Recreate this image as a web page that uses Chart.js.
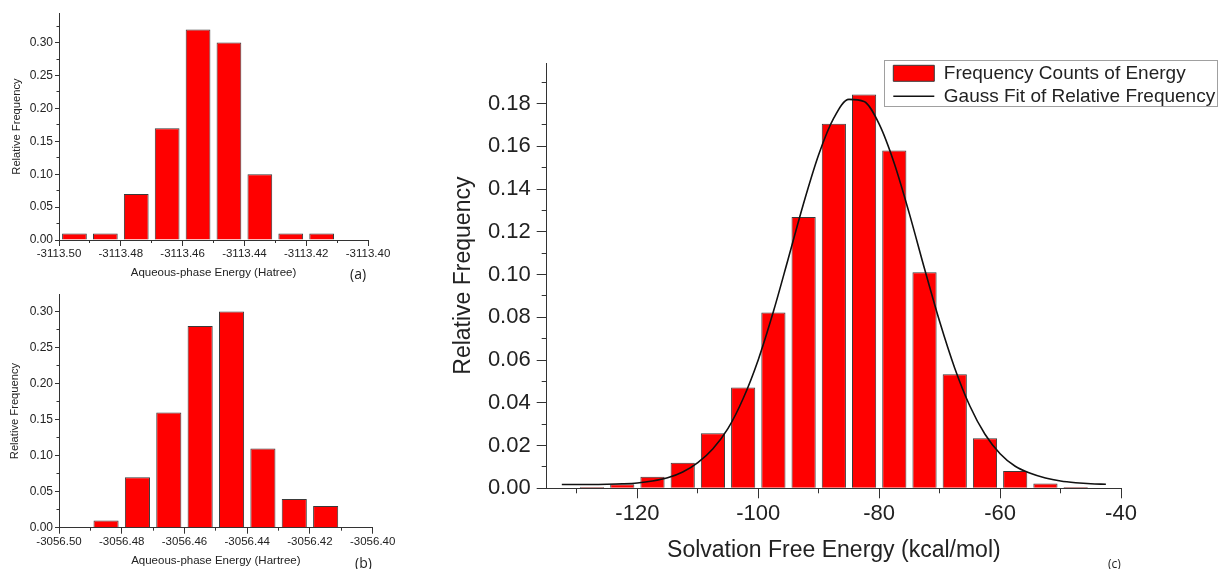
<!DOCTYPE html>
<html>
<head>
<meta charset="utf-8">
<script src="https://cdn.jsdelivr.net/npm/chart.js@4.4.1/dist/chart.umd.min.js"></script>
<style>
  html, body { margin: 0; padding: 0; background: #fff; width: 1220px; height: 569px; overflow: hidden; }
  .box { position: absolute; }
  .tag { position: absolute; font-family: "Open Sans", "Liberation Sans", sans-serif; color: #222; white-space: nowrap; }
</style>
</head>
<body>
<div class="box" style="left:0;top:0;width:400px;height:285px"><canvas id="ca" width="400" height="285"></canvas></div>
<div class="box" style="left:0;top:285px;width:400px;height:284px"><canvas id="cb" width="400" height="284"></canvas></div>
<div class="box" style="left:420px;top:0;width:800px;height:569px"><canvas id="cc" width="800" height="569"></canvas></div>
<span class="tag" style="left:350px;top:264px;font-size:14px;line-height:20px">(a)</span>
<span class="tag" style="left:355px;top:553px;font-size:14px;line-height:20px">(b)</span>
<span class="tag" style="left:1108px;top:556px;font-size:12px;line-height:16px">(c)</span>
<script>
// ---------------- data ----------------
// (a) aqueous-phase energy histogram
const aEnergy = [-3113.495, -3113.485, -3113.475, -3113.465, -3113.455, -3113.445, -3113.435, -3113.425, -3113.415];
const aFreq   = [0.01, 0.01, 0.07, 0.17, 0.32, 0.30, 0.10, 0.01, 0.01];
const aXTicks = [-3113.50, -3113.48, -3113.46, -3113.44, -3113.42, -3113.40];

// (b) aqueous-phase energy histogram
const bEnergy = [-3056.485, -3056.475, -3056.465, -3056.455, -3056.445, -3056.435, -3056.425, -3056.415];
const bFreq   = [0.01, 0.07, 0.16, 0.28, 0.30, 0.11, 0.04, 0.03];
const bXTicks = [-3056.50, -3056.48, -3056.46, -3056.44, -3056.42, -3056.40];

const abYTicks = [0.00, 0.05, 0.10, 0.15, 0.20, 0.25, 0.30];

// (c) solvation free energy histogram + Gauss fit
const cEnergy = [-132.5, -127.5, -122.5, -117.5, -112.5, -107.5, -102.5, -97.5, -92.5, -87.5,
                 -82.5, -77.5, -72.5, -67.5, -62.5, -57.5, -52.5, -47.5, -42.5];
const cFreq   = [0.0003, 0.0006, 0.0019, 0.0054, 0.0120, 0.0257, 0.0472, 0.0822, 0.1269, 0.1706,
                 0.1843, 0.1580, 0.1011, 0.0534, 0.0234, 0.0081, 0.0023, 0.0006, 0.0003];
const gaussEnergy = [-132.5, -130, -127.5, -125, -122.5, -120, -117.5, -115, -112.5, -110,
                     -107.5, -105, -102.5, -100, -97.5, -95, -92.5, -90, -87.5, -85,
                     -82.5, -80, -77.5, -75, -72.5, -70, -67.5, -65, -62.5, -60,
                     -57.5, -55, -52.5, -50, -47.5, -45, -42.5];
const gaussFreq   = [0.0018, 0.0018, 0.0018, 0.0019, 0.0021, 0.0025, 0.0034, 0.0049, 0.0076, 0.0120,
                     0.0185, 0.0280, 0.0420, 0.0602, 0.0827, 0.1079, 0.1334, 0.1562, 0.1733, 0.1820,
                     0.1810, 0.1704, 0.1520, 0.1284, 0.1027, 0.0780, 0.0562, 0.0385, 0.0253, 0.0162,
                     0.0103, 0.0070, 0.0048, 0.0034, 0.0026, 0.0021, 0.0019];
const cXTicks = [-120, -100, -80, -60, -40];
const cYTicks = [0.00, 0.02, 0.04, 0.06, 0.08, 0.10, 0.12, 0.14, 0.16, 0.18];

// ---------------- helpers ----------------
Chart.defaults.font.family = '"Liberation Sans", Arial, Helvetica, sans-serif';
Chart.defaults.color = '#222';

const AXIS = '#333';

const minorTicks = {
  id: 'minorTicks',
  afterDraw(chart, args, o) {
    if (!o || !o.color) return;
    const ctx = chart.ctx, ca = chart.chartArea;
    const xs = chart.scales.x, ys = chart.scales.y;
    const al = p => Math.round(p - 0.5) + 0.5;
    ctx.save();
    ctx.strokeStyle = o.color;
    ctx.lineWidth = 1;
    ctx.beginPath();
    if (o.xStep) {
      const s = Math.ceil(xs.min / o.xStep - 1e-6);
      const e = Math.floor(xs.max / o.xStep + 1e-6);
      for (let k = s; k <= e; k++) {
        const p = al(xs.getPixelForValue(k * o.xStep));
        ctx.moveTo(p, ca.bottom); ctx.lineTo(p, ca.bottom + o.xLen);
      }
    }
    if (o.yStep) {
      const s = Math.ceil(ys.min / o.yStep - 1e-6);
      const e = Math.floor(ys.max / o.yStep + 1e-6);
      for (let k = s; k <= e; k++) {
        const p = al(ys.getPixelForValue(k * o.yStep));
        ctx.moveTo(ca.left - o.yLen, p); ctx.lineTo(ca.left, p);
      }
    }
    ctx.stroke();
    ctx.restore();
  }
};

const legendPlace = {
  id: 'legendPlace',
  afterLayout(chart, args, o) {
    const lg = chart.legend;
    if (!lg || !o || o.left === undefined) return;
    lg.left = o.left; lg.top = o.top;
    lg.width = o.width; lg.height = o.height;
    lg.right = o.left + o.width; lg.bottom = o.top + o.height;
  },
  afterDraw(chart, args, o) {
    if (!o || o.boxLeft === undefined) return;
    const ctx = chart.ctx;
    ctx.save();
    ctx.strokeStyle = o.borderColor;
    ctx.lineWidth = 1;
    ctx.strokeRect(o.boxLeft + 0.5, o.boxTop + 0.5, o.boxWidth, o.boxHeight);
    ctx.restore();
  }
};

function fixedTicks(arr) {
  return scale => { scale.ticks = arr.map(v => ({ value: v })); };
}

function smallHist(id, xs, ys, cfg) {
  return new Chart(document.getElementById(id), {
    type: 'bar',
    data: {
      datasets: [{
        label: 'Relative Frequency',
        data: xs.map((x, i) => ({ x: x, y: ys[i] })),
        backgroundColor: '#ff0000',
        borderColor: '#3a3a3a',
        borderWidth: 1,
        barPercentage: 0.8,
        categoryPercentage: 1.0
      }]
    },
    options: {
      responsive: false,
      animation: false,
      events: [],
      layout: { padding: cfg.pad },
      plugins: {
        legend: { display: false },
        tooltip: { enabled: false },
        minorTicks: { color: AXIS, xStep: 0.01, xLen: 3, yStep: 0.025, yLen: 2.5 }
      },
      scales: {
        x: {
          type: 'linear',
          bounds: 'data',
          min: cfg.xMin, max: cfg.xMax,
          offset: false,
          afterBuildTicks: fixedTicks(cfg.xTicks),
          afterFit: s => { s.height = cfg.xh; },
          grid: { offset: false, drawOnChartArea: false, drawTicks: true, tickLength: 6, color: AXIS },
          border: { display: true, color: AXIS, width: 1 },
          ticks: { autoSkip: false, maxRotation: 0, padding: 1.2, font: { size: 11.5 }, color: '#222',
                   callback: v => Number(v).toFixed(2) },
          title: { display: true, text: cfg.xTitle, font: { size: 11.5 }, color: '#222',
                   padding: { top: 0, bottom: cfg.xtPad } }
        },
        y: {
          type: 'linear',
          bounds: 'data',
          min: 0, max: cfg.yMax,
          afterBuildTicks: fixedTicks(abYTicks),
          afterFit: s => { s.width = cfg.yw; },
          grid: { drawOnChartArea: false, drawTicks: true, tickLength: 4, color: AXIS },
          border: { display: true, color: AXIS, width: 1 },
          ticks: { autoSkip: false, padding: 2, font: { size: 12 }, color: '#222',
                   callback: v => Number(v).toFixed(2) },
          title: { display: true, text: 'Relative Frequency', font: { size: 11.2 }, color: '#222',
                   padding: { top: cfg.ytPad, bottom: 0 } }
        }
      }
    },
    plugins: [minorTicks]
  });
}

// (a)
smallHist('ca', aEnergy, aFreq, {
  xMin: -3113.50, xMax: -3113.40, xTicks: aXTicks, yMax: 0.345,
  pad: { left: 0, top: 13, right: 32, bottom: 0 }, yw: 59, xh: 45,
  xTitle: 'Aqueous-phase Energy (Hatree)', xtPad: 5, ytPad: 10
});

// (b)
smallHist('cb', bEnergy, bFreq, {
  xMin: -3056.50, xMax: -3056.40, xTicks: bXTicks, yMax: 0.324,
  pad: { left: 0, top: 9.3, right: 27.3, bottom: 0 }, yw: 59, xh: 41.3,
  xTitle: 'Aqueous-phase Energy (Hartree)', xtPad: 1, ytPad: 8
});

// (c)
new Chart(document.getElementById('cc'), {
  type: 'bar',
  data: {
    datasets: [
      {
        type: 'bar',
        label: 'Frequency Counts of Energy',
        data: cEnergy.map((x, i) => ({ x: x, y: cFreq[i] })),
        backgroundColor: '#ff0000',
        borderColor: '#3a3a3a',
        borderWidth: 1,
        barPercentage: 0.8,
        categoryPercentage: 1.0,
        pointStyle: 'rect',
        order: 1
      },
      {
        type: 'line',
        label: 'Gauss Fit of Relative Frequency',
        data: gaussEnergy.map((x, i) => ({ x: x, y: gaussFreq[i] })),
        borderColor: '#111',
        backgroundColor: '#111',
        borderWidth: 1.6,
        pointRadius: 0,
        pointStyle: 'line',
        fill: false,
        cubicInterpolationMode: 'monotone',
        order: 0
      }
    ]
  },
  options: {
    responsive: false,
    animation: false,
    events: [],
    layout: { padding: { left: 0, top: 63, right: 99, bottom: 0 } },
    plugins: {
      tooltip: { enabled: false },
      legend: {
        display: true,
        position: 'chartArea',
        align: 'start',
        labels: {
          usePointStyle: true,
          pointStyleWidth: 41,
          boxHeight: 16,
          padding: 4,
          color: '#222',
          font: { size: 19 },
          sort: (a, b) => a.datasetIndex - b.datasetIndex
        }
      },
      legendPlace: { left: 469.3, top: 59.8, width: 330, height: 50,
                     boxLeft: 464, boxTop: 60, boxWidth: 333, boxHeight: 46, borderColor: '#a0a0a0' },
      minorTicks: { color: AXIS, xStep: 10, xLen: 5, yStep: 0.01, yLen: 5 }
    },
    scales: {
      x: {
        type: 'linear',
        bounds: 'data',
        min: -135, max: -40,
        offset: false,
        afterBuildTicks: fixedTicks(cXTicks),
        afterFit: s => { s.height = 80.7; },
        grid: { offset: false, drawOnChartArea: false, drawTicks: true, tickLength: 10, color: AXIS },
        border: { display: true, color: AXIS, width: 1 },
        ticks: { autoSkip: false, maxRotation: 0, padding: 2, font: { size: 22 }, color: '#222',
                 callback: v => String(Math.round(v)) },
        title: { display: true, text: 'Solvation Free Energy (kcal/mol)', font: { size: 23 }, color: '#222',
                 padding: { top: 0, bottom: 4.5 } }
      },
      y: {
        type: 'linear',
        bounds: 'data',
        min: 0, max: 0.199,
        afterBuildTicks: fixedTicks(cYTicks),
        afterFit: s => { s.width = 126.7; },
        grid: { drawOnChartArea: false, drawTicks: true, tickLength: 10, color: AXIS },
        border: { display: true, color: AXIS, width: 1 },
        ticks: { autoSkip: false, padding: 6, font: { size: 22 }, color: '#222',
                 callback: v => Number(v).toFixed(2) },
        title: { display: true, text: 'Relative Frequency', font: { size: 23 }, color: '#222',
                 padding: { top: 29.5, bottom: 0 } }
      }
    }
  },
  plugins: [minorTicks, legendPlace]
});
</script>
</body>
</html>
